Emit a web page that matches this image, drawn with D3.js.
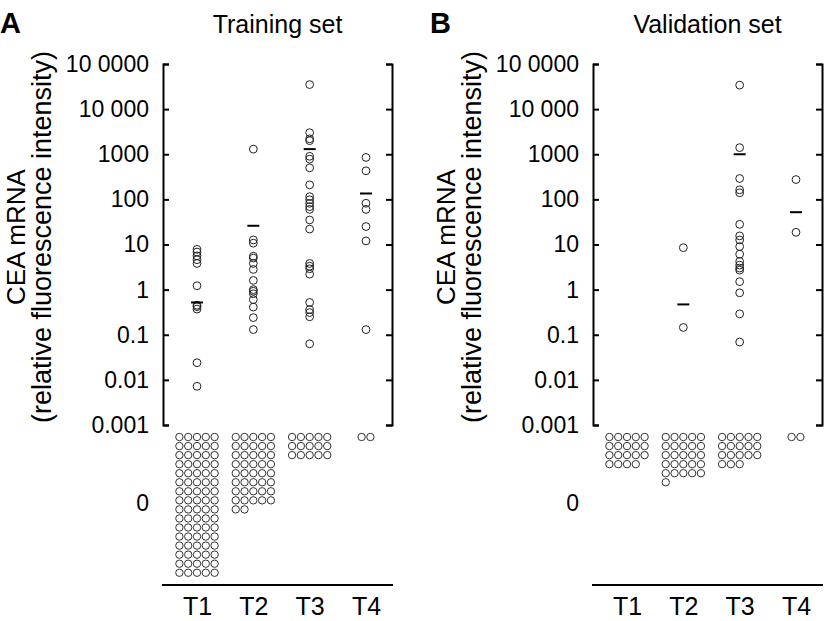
<!DOCTYPE html>
<html>
<head>
<meta charset="utf-8">
<script src="https://cdn.jsdelivr.net/npm/d3@7/dist/d3.min.js"></script>
<style>
  html, body { margin: 0; padding: 0; background: #fff; }
  svg { display: block; }
  text { font-family: "Liberation Sans", Arial, Helvetica, sans-serif; fill: #000; }
</style>
</head>
<body>
<svg id="chart" width="829" height="621"></svg>
<script>
// ---------- data ----------
const categories = ["T1", "T2", "T3", "T4"];
const tickValues = [100000, 10000, 1000, 100, 10, 1, 0.1, 0.01, 0.001];
const tickLabels = ["10 0000", "10 000", "1000", "100", "10", "1", "0.1", "0.01", "0.001"];
const zeroLabel = "0";

// Training set
const trainT1 = [7.8, 6.8, 5.6, 4.6, 3.8, 1.22, 0.45, 0.42, 0.37, 0.024, 0.0072];
const trainT2 = [1300, 12.6, 10.7, 5.5, 5.0, 3.8, 2.8, 1.6, 1.0, 0.92, 0.81, 0.6, 0.41, 0.24, 0.13];
const trainT3 = [35000, 3000, 2200, 2000, 900, 780, 500, 210, 115, 98, 82, 69, 60, 35, 22,
                 3.8, 3.3, 2.9, 2.2, 0.52, 0.36, 0.31, 0.25, 0.063];
const trainT4 = [850, 430, 82, 60, 25, 12, 0.13];
const trainMedians = [0.52, 26, 1300, 135];
const trainZeros = [80, 42, 15, 2];

// Validation set
const validT1 = [];
const validT2 = [8.5, 0.145];
const validT3 = [34000, 1400, 290, 163, 140, 28, 15.5, 12.6, 9, 6.1, 4.2, 3.5, 3.0, 2.7, 1.5, 0.85, 0.29, 0.069];
const validT4 = [275, 18.6];
const validMedians = [null, 0.47, 1000, 52];
const validZeros = [19, 26, 18, 2];

const panels = [
  { letter: "A", title: "Training set", series: [trainT1, trainT2, trainT3, trainT4],
    medians: trainMedians, zeros: trainZeros, left: 163 },
  { letter: "B", title: "Validation set", series: [validT1, validT2, validT3, validT4],
    medians: validMedians, zeros: validZeros, left: 593 }
];

// ---------- layout ----------
const svg = d3.select("#chart");
const plotW = 229;
const yTop = 64, yBottom = 425;
const xAxisY = 585;
const zeroTop = 437, pitchX = 8.8, pitchY = 9.05, zr = 3.7, pr = 3.9;

const y = d3.scaleLog().domain([0.001, 100000]).range([yBottom, yTop]);
const x = d3.scalePoint().domain(categories).range([34, 203]);

panels.forEach(p => {
  const g = svg.append("g").attr("transform", `translate(${p.left},0)`);

  // panel letter & title
  svg.append("text").attr("x", p.left - 163).attr("y", 33)
    .attr("font-size", 29).attr("font-weight", "bold").text(p.letter);
  g.append("text").attr("x", plotW / 2).attr("y", 33)
    .attr("text-anchor", "middle").attr("font-size", 25).text(p.title);

  // y axis title
  const tg = g.append("g").attr("transform", `translate(-138,237) rotate(-90)`);
  tg.append("text").attr("x", 0).attr("y", 0).attr("text-anchor", "middle")
    .attr("font-size", 26).text("CEA mRNA");
  tg.append("text").attr("x", 0).attr("y", 26).attr("text-anchor", "middle")
    .attr("font-size", 27).text("(relative fluorescence intensity)");

  // left axis
  const la = g.append("g").call(
    d3.axisLeft(y).tickValues(tickValues)
      .tickFormat((d, i) => tickLabels[i])
      .tickSize(-6).tickPadding(14)
  );
  // right axis
  const ra = g.append("g").attr("transform", `translate(${plotW},0)`).call(
    d3.axisRight(y).tickValues(tickValues).tickFormat("").tickSize(-6)
  );
  [la, ra].forEach(a => {
    a.selectAll("path.domain").attr("stroke", "#000").attr("stroke-width", 2);
    a.selectAll(".tick line").attr("stroke", "#000").attr("stroke-width", 2);
  });
  la.selectAll(".tick text").attr("font-size", 23).attr("font-family", null).attr("fill", "#000");

  // zero label
  g.append("text").attr("x", -14).attr("y", 503).attr("dy", "0.35em")
    .attr("text-anchor", "end").attr("font-size", 23).text(zeroLabel);

  // bottom axis
  g.append("line").attr("x1", -1).attr("x2", plotW + 1)
    .attr("y1", xAxisY).attr("y2", xAxisY)
    .attr("stroke", "#000").attr("stroke-width", 2);
  const ba = g.append("g").attr("transform", `translate(0,${xAxisY})`).call(
    d3.axisBottom(x).tickSize(0).tickPadding(12)
  );
  ba.select("path.domain").remove();
  ba.selectAll(".tick text").attr("font-size", 25).attr("font-family", null).attr("fill", "#000");

  // scatter points
  p.series.forEach((vals, ci) => {
    const cx = x(categories[ci]);
    g.selectAll(null).data(vals).enter().append("circle")
      .attr("cx", cx).attr("cy", d => y(d)).attr("r", pr)
      .attr("fill", "none").attr("stroke", "#222").attr("stroke-width", 1);
  });

  // medians
  p.medians.forEach((m, ci) => {
    if (m == null) return;
    const cx = x(categories[ci]);
    g.append("line").attr("x1", cx - 6).attr("x2", cx + 6)
      .attr("y1", y(m)).attr("y2", y(m))
      .attr("stroke", "#000").attr("stroke-width", 2);
  });

  // zero clusters
  p.zeros.forEach((n, ci) => {
    const cx = x(categories[ci]);
    const cols = Math.min(5, n);
    const x0 = cx - (cols - 1) * pitchX / 2;
    const pts = d3.range(n).map(i => ({ c: i % 5, r: Math.floor(i / 5) }));
    g.selectAll(null).data(pts).enter().append("circle")
      .attr("cx", d => x0 + d.c * pitchX)
      .attr("cy", d => zeroTop + d.r * pitchY)
      .attr("r", zr)
      .attr("fill", "none").attr("stroke", "#333").attr("stroke-width", 1);
  });
});
</script>
</body>
</html>
